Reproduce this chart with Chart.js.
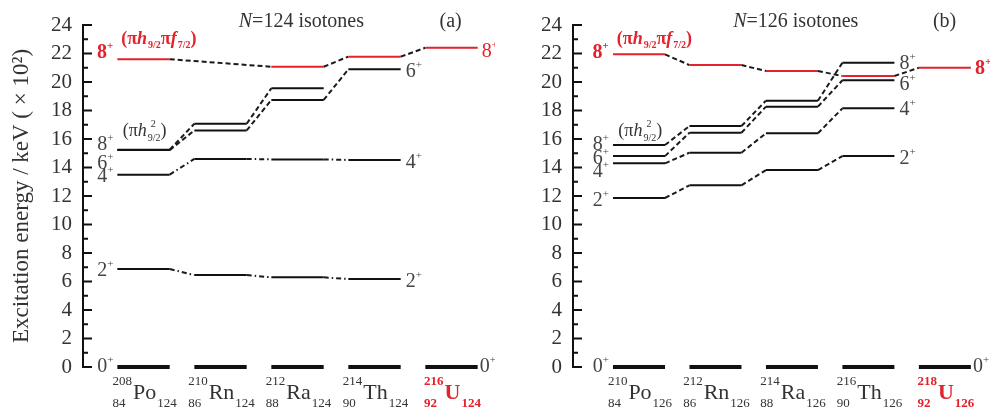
<!DOCTYPE html>
<html>
<head>
<meta charset="utf-8">
<script src="https://cdn.jsdelivr.net/npm/chart.js@4.4.0/dist/chart.umd.min.js"></script>
<style>
  body { margin: 0; background: #fff; }
  #wrap { position: relative; width: 990px; height: 412px; }
  .panel { position: absolute; top: 0; width: 495px; height: 412px; }
</style>
</head>
<body>
<div id="wrap">
  <div class="panel" style="left:0"><canvas id="chartA" width="495" height="412"></canvas></div>
  <div class="panel" style="left:495px"><canvas id="chartB" width="495" height="412"></canvas></div>
</div>
<script>
// nuclei on the x axis
const symbols = ["Po", "Rn", "Ra", "Th", "U"];
const protons = ["84", "86", "88", "90", "92"];
const massA = ["208", "210", "212", "214", "216"];
const massB = ["210", "212", "214", "216", "218"];
const yTicks = [0, 2, 4, 6, 8, 10, 12, 14, 16, 18, 20, 22, 24];

// N=124 levels (x10^2 keV), null = not shown
const a0 = [0, 0, 0, 0, 0];
const a2 = [6.88, 6.45, 6.29, 6.18, null];
const a4 = [13.5, 14.6, 14.57, 14.53, null];
const a6 = [15.22, 16.6, 18.74, 20.89, null];
const a8 = [15.25, 17.07, 19.56, null, null];
const a8pi = [21.6, null, 21.07, 21.78, 22.4];

// N=126 levels
const b0 = [0, 0, 0, 0, 0];
const b2 = [11.86, 12.75, 13.82, 14.8, null];
const b4 = [14.29, 15.04, 16.4, 18.15, null];
const b6 = [14.8, 16.44, 18.27, 20.12, null];
const b8 = [15.58, 16.91, 18.69, 21.35, null];
const b8pi = [21.94, 21.19, 20.77, 20.42, 21.0];

const SERIF = "Liberation Serif";
const RED = "#e3222b";
const HALF = 0.34;

function levelPoints(values, connect) {
    const pts = [];
    values.forEach((v, i) => {
        if (v === null) return;
        if (!connect && pts.length) pts.push({x: i - 0.5, y: null});
        pts.push({x: i - HALF, y: v}, {x: i + HALF, y: v});
    });
    return pts;
}

const sameLevel = c => Math.round(c.p0.parsed.x) === Math.round(c.p1.parsed.x);

function levelDataset(values, opts = {}) {
    const color = opts.color || "#111";
    const width = opts.width || 2;
    return {
        data: levelPoints(values, opts.connect !== false),
        borderColor: color,
        borderWidth: width,
        pointRadius: 0,
        fill: false,
        clip: false,
        segment: {
            borderDash: c => sameLevel(c) ? [] : (opts.dash || [5, 3]),
            borderColor: c => sameLevel(c) ? color : "#1a1a1a",
            borderWidth: c => sameLevel(c) ? width : 2
        }
    };
}

function txt(ctx, s, x, y, size, o = {}) {
    ctx.font = `${o.italic ? "italic " : ""}${o.bold ? "bold " : ""}${size}px "${SERIF}"`;
    ctx.fillStyle = o.color || "#333";
    ctx.textAlign = "left";
    ctx.textBaseline = "alphabetic";
    ctx.fillText(s, x, y);
    return ctx.measureText(s).width;
}

function measure(ctx, s, size, o = {}) {
    ctx.font = `${o.italic ? "italic " : ""}${o.bold ? "bold " : ""}${size}px "${SERIF}"`;
    return ctx.measureText(s).width;
}

// "8+" style spin label, y is the text middle
function spin(ctx, digit, x, y, align, o = {}) {
    const w = measure(ctx, digit, 20, o) + measure(ctx, "+", 11, o);
    let x0 = align === "right" ? x - w : x;
    x0 += txt(ctx, digit, x0, y + 7, 20, o);
    txt(ctx, "+", x0, y - 2, 11, o);
}

function nuclide(ctx, cx, mass, z, sym, n, red) {
    const o = red ? {bold: true, color: RED} : {color: "#333"};
    const wPre = Math.max(measure(ctx, mass, 13, o), measure(ctx, z, 13, o));
    const wSym = measure(ctx, sym, 22, o);
    const wN = measure(ctx, n, 13, o);
    const total = wPre + wSym + wN + 2;
    let x = cx - total / 2 + 1;
    txt(ctx, mass, x + wPre - measure(ctx, mass, 13, o), 385, 13, o);
    txt(ctx, z, x, 407, 13, o);
    x += wPre + 1;
    x += txt(ctx, sym, x, 399, 22, o) + 1;
    txt(ctx, n, x, 407, 13, o);
}

function piAnnotation(ctx, x, y) {
    const o = {bold: true, color: RED};
    x += txt(ctx, "(", x, y, 18, o);
    x += txt(ctx, "π", x, y, 18, o);
    x += txt(ctx, "h", x, y, 18, {bold: true, italic: true, color: RED}) + 1;
    x += txt(ctx, "9/2", x, y + 4, 10, o);
    x += txt(ctx, "π", x, y, 18, o);
    x += txt(ctx, "f", x, y, 18, {bold: true, italic: true, color: RED}) + 1;
    x += txt(ctx, "7/2", x, y + 4, 10, o);
    txt(ctx, ")", x, y, 18, o);
}

function hAnnotation(ctx, x, y) {
    const o = {color: "#333"};
    x += txt(ctx, "(", x, y, 18, o);
    x += txt(ctx, "π", x, y, 18, o);
    x += txt(ctx, "h", x, y, 18, {italic: true, color: "#333"}) + 1;
    txt(ctx, "2", x + 3, y - 9, 10, o);
    x += txt(ctx, "9/2", x, y + 5, 10, o);
    txt(ctx, ")", x, y, 18, o);
}

const panels = {
    chartA: {
        mass: massA, n: "124", title: "124", tag: "(a)",
        left: [["8", 15.75], ["6", 14.4], ["4", 13.5], ["2", 6.9], ["0", 0.15]],
        rightTh: [["6", 20.85], ["4", 14.45], ["2", 6.1]],
        uSpin: 22.25
    },
    chartB: {
        mass: massB, n: "126", title: "126", tag: "(b)",
        left: [["8", 15.75], ["6", 14.75], ["4", 13.8], ["2", 11.8], ["0", 0.15]],
        rightTh: [["8", 21.4], ["6", 19.9], ["4", 18.2], ["2", 14.75]],
        uSpin: 21.05
    }
};

const levelText = {
    id: "levelText",
    afterDraw(chart) {
        const p = panels[chart.canvas.id];
        const ctx = chart.ctx;
        const xs = chart.scales.x, ys = chart.scales.y;
        const X = v => xs.getPixelForValue(v), Y = v => ys.getPixelForValue(v);
        const left = chart.chartArea.left;
        ctx.save();

        // axis line with inner ticks
        ctx.strokeStyle = "#111";
        ctx.lineWidth = 2;
        ctx.beginPath();
        ctx.moveTo(left, Y(0) + 1);
        ctx.lineTo(left, Y(24) - 1);
        for (let v = 0; v <= 24; v++) {
            ctx.moveTo(left, Y(v));
            ctx.lineTo(left + (v % 2 === 0 ? 9 : 5), Y(v));
        }
        ctx.stroke();

        // spin labels
        p.left.forEach(([d, v]) => spin(ctx, d, X(-HALF) - 4, Y(v), "right", {color: "#444"}));
        p.rightTh.forEach(([d, v]) => spin(ctx, d, X(3 + HALF) + 5, Y(v), "left", {color: "#444"}));
        spin(ctx, "8", X(4 + HALF) + 4, Y(p.uSpin), "left",
             chart.canvas.id === "chartB" ? {color: RED, bold: true} : {color: RED});
        spin(ctx, "0", X(4 + HALF) + 2, Y(0.15), "left", {color: "#444"});

        // configuration annotations
        spin(ctx, "8", X(-0.29) - 8, Y(22.15), "right", {color: RED, bold: true});
        piAnnotation(ctx, X(-0.29), Y(22.67));
        hAnnotation(ctx, X(-0.27), Y(16.2));

        // nuclei names
        symbols.forEach((s, i) => nuclide(ctx, X(i), p.mass[i], protons[i], s, p.n, i === 4));

        // title and panel tag
        const tw = measure(ctx, "N", 20, {italic: true}) + measure(ctx, "=" + p.title + " isotones", 20);
        let tx = X(2.05) - tw / 2;
        tx += txt(ctx, "N", tx, 27, 20, {italic: true, color: "#333"});
        txt(ctx, "=" + p.title + " isotones", tx, 27, 20, {color: "#333"});
        txt(ctx, p.tag, X(4) - 12, 27, 20, {color: "#333"});
        ctx.restore();
    }
};

function makeChart(id, series, xMin, xMax, axisWidth, showTitle) {
    const [s0, s2, s4, s6, s8, s8pi] = series;
    const dashDot = id === "chartA" ? [5, 3, 1.5, 3] : [5, 3];
    return new Chart(document.getElementById(id), {
        type: "line",
        data: {
            datasets: [
                levelDataset(s0, {connect: false, width: 4}),
                levelDataset(s2, {dash: dashDot}),
                levelDataset(s4, {dash: dashDot}),
                levelDataset(s6),
                levelDataset(s8),
                levelDataset(s8pi, {color: RED})
            ]
        },
        options: {
            responsive: false,
            animation: false,
            devicePixelRatio: 1,
            layout: {padding: {left: 0, right: 0, top: 25, bottom: 45}},
            plugins: {legend: {display: false}, tooltip: {enabled: false}},
            scales: {
                x: {type: "linear", min: xMin, max: xMax, display: false},
                y: {
                    min: 0,
                    max: 24,
                    afterBuildTicks: s => { s.ticks = yTicks.map(v => ({value: v})); },
                    afterFit: s => { s.width = axisWidth; },
                    grid: {display: false, drawTicks: false},
                    border: {display: false},
                    ticks: {padding: 11, color: "#333", font: {family: SERIF, size: 21}},
                    title: {
                        display: showTitle,
                        text: "Excitation energy / keV ( × 10²)",
                        color: "#333",
                        font: {family: SERIF, size: 23},
                        padding: {top: 8, bottom: 0}
                    }
                }
            }
        },
        plugins: [levelText]
    });
}

makeChart("chartA", [a0, a2, a4, a6, a8, a8pi], -0.786, 4.565, 83, true);
makeChart("chartB", [b0, b2, b4, b6, b8, b8pi], -0.863, 4.59, 78, false);
</script>
</body>
</html>
